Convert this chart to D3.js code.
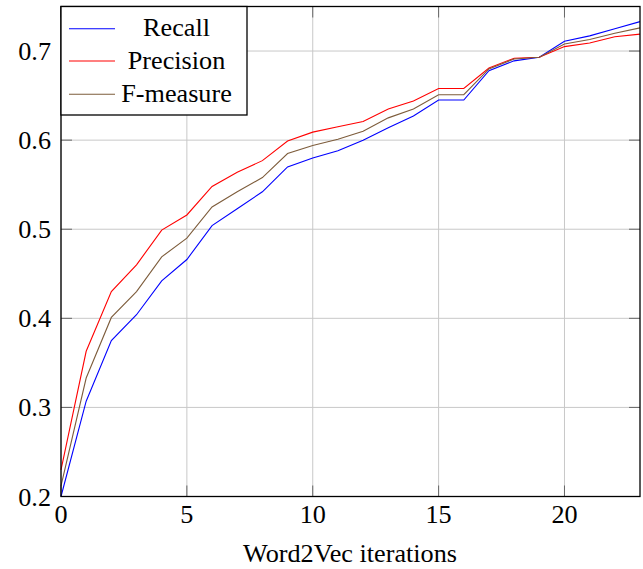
<!DOCTYPE html>
<html>
<head>
<meta charset="utf-8">
<script src="https://cdn.jsdelivr.net/npm/d3@7/dist/d3.min.js"></script>
<style>
  html, body { margin: 0; padding: 0; background: #fff; }
  svg { display: block; }
</style>
</head>
<body>
<svg id="chart" width="643" height="569"></svg>
<script>
const iterations = [0,1,2,3,4,5,6,7,8,9,10,11,12,13,14,15,16,17,18,19,20,21,22,23];
const recall    = [0.200,0.307,0.375,0.404,0.442,0.466,0.504,0.523,0.542,0.570,0.580,0.588,0.600,0.614,0.627,0.645,0.645,0.678,0.689,0.693,0.711,0.717,0.725,0.733];
const precision = [0.230,0.363,0.430,0.460,0.499,0.516,0.548,0.564,0.577,0.599,0.609,0.615,0.621,0.635,0.644,0.658,0.658,0.681,0.692,0.693,0.705,0.709,0.716,0.719];
const fmeasure  = [0.212,0.333,0.401,0.430,0.469,0.490,0.525,0.542,0.558,0.585,0.594,0.601,0.610,0.625,0.635,0.651,0.651,0.680,0.691,0.693,0.708,0.713,0.720,0.726];
const xTicks = [0,5,10,15,20];
const yTicks = [0.2,0.3,0.4,0.5,0.6,0.7];
const seriesNames = ["Recall","Precision","F-measure"];
const seriesColors = ["#0000ff","#ff0000","#7d5c3b"];
const xLabel = "Word2Vec iterations";

(function(){
const FONT = "Liberation Serif";
const FS = 26.2;
const svg = d3.select("#chart");
const pL = 61, pR = 640, pT = 6.5, pB = 496.5;
const x = d3.scaleLinear().domain([0,23]).range([pL,pR]);
const y = d3.scaleLinear().domain([0.2,0.75]).range([pB,pT]);

// grid
svg.append("g").selectAll("line").data(xTicks).join("line")
  .attr("x1", d=>x(d)).attr("x2", d=>x(d)).attr("y1", pT).attr("y2", pB)
  .attr("stroke", "#c8c8c8").attr("stroke-width", 1);
svg.append("g").selectAll("line").data(yTicks).join("line")
  .attr("x1", pL).attr("x2", pR).attr("y1", d=>y(d)).attr("y2", d=>y(d))
  .attr("stroke", "#c8c8c8").attr("stroke-width", 1);

// inner ticks
const tl = 11;
const tg = svg.append("g").attr("stroke", "#666").attr("stroke-width", 1);
xTicks.forEach(d => {
  tg.append("line").attr("x1", x(d)).attr("x2", x(d)).attr("y1", pB).attr("y2", pB - tl);
  tg.append("line").attr("x1", x(d)).attr("x2", x(d)).attr("y1", pT).attr("y2", pT + tl);
});
yTicks.forEach(d => {
  tg.append("line").attr("x1", pL).attr("x2", pL + tl).attr("y1", y(d)).attr("y2", y(d));
  tg.append("line").attr("x1", pR).attr("x2", pR - tl).attr("y1", y(d)).attr("y2", y(d));
});

// lines
const allSeries = [recall, precision, fmeasure];
const line = d3.line().x((d,i)=>x(iterations[i])).y(d=>y(d));
allSeries.forEach((s,k) => {
  svg.append("path").datum(s).attr("d", line)
    .attr("fill","none").attr("stroke", seriesColors[k]).attr("stroke-width", 1.1);
});

// frame
svg.append("rect").attr("x", pL).attr("y", pT).attr("width", pR-pL).attr("height", pB-pT)
  .attr("fill","none").attr("stroke","#000").attr("stroke-width",1.3);

// tick labels
svg.append("g").selectAll("text").data(xTicks).join("text")
  .attr("x", d=>x(d)).attr("y", 523).attr("text-anchor","middle")
  .attr("font-family", FONT).attr("font-size", FS).attr("fill","#000").text(d=>d);
svg.append("g").selectAll("text").data(yTicks).join("text")
  .attr("x", 51).attr("y", d=>y(d)+9).attr("text-anchor","end")
  .attr("font-family", FONT).attr("font-size", FS).attr("fill","#000").text(d=>d3.format(".1f")(d));

// axis label
svg.append("text").attr("x", 350).attr("y", 562).attr("text-anchor","middle")
  .attr("font-family", FONT).attr("font-size", FS).attr("fill","#000").text(xLabel);

// legend
const lg = svg.append("g");
lg.append("rect").attr("x", pL).attr("y", pT).attr("width", 186).attr("height", 108.5)
  .attr("fill","#fff").attr("stroke","#000").attr("stroke-width",1.3);
const rows = [28.7, 61, 94.3];
seriesNames.forEach((n,k) => {
  lg.append("line").attr("x1", 69).attr("x2", 115).attr("y1", rows[k]).attr("y2", rows[k])
    .attr("stroke", seriesColors[k]).attr("stroke-width", 1.1);
  lg.append("text").attr("x", 176.5).attr("y", rows[k] + 7.5).attr("text-anchor","middle")
    .attr("font-family", FONT).attr("font-size", FS).attr("fill","#000").text(n);
});
})();
</script>
</body>
</html>
